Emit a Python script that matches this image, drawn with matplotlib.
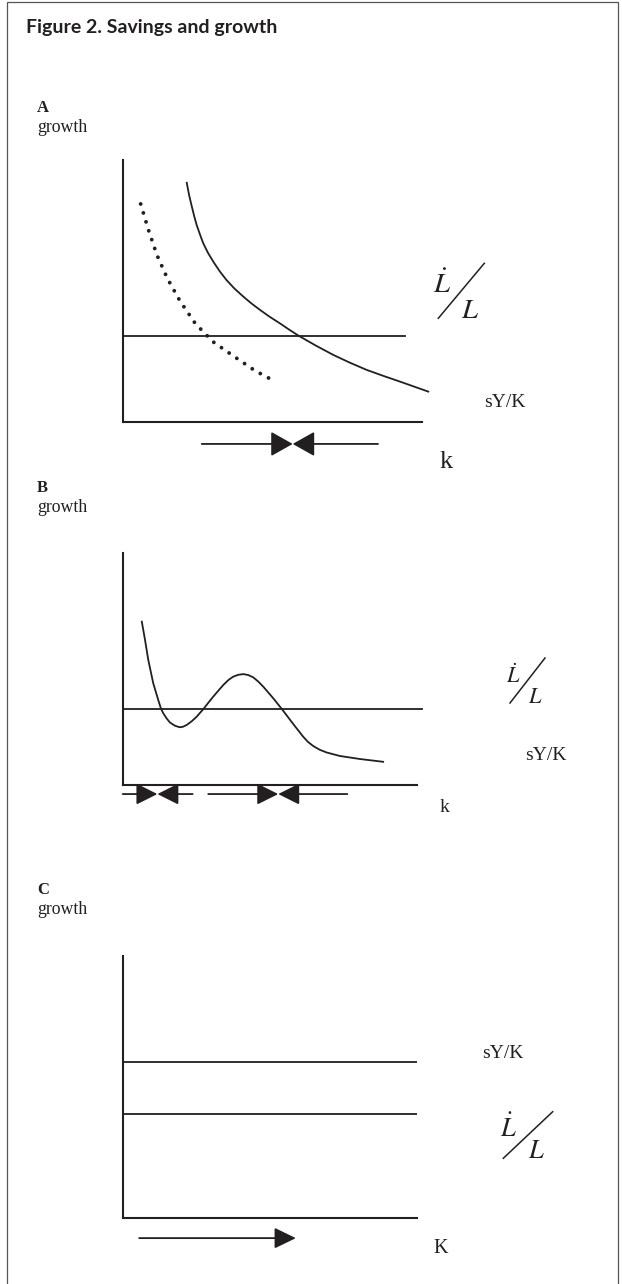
import matplotlib
matplotlib.use("Agg")
import matplotlib.pyplot as plt
from matplotlib.lines import Line2D
from matplotlib.patches import Rectangle

plt.rcParams["mathtext.fontset"] = "stix"

INK = "#231f20"
SERIF = ["Liberation Serif", "DejaVu Serif"]

# Panel A: falling sY/K (solid), shifted sY/K (dotted), flat labour growth
A_SOLID_X = [2.14, 2.22, 2.31, 2.39, 2.47, 2.58, 2.69, 2.85, 3.03, 3.24, 3.47, 3.74, 4.03, 4.30,
             4.59, 4.91, 5.25, 5.56, 5.87, 6.45, 7.04, 7.60, 8.15, 8.71, 9.27, 9.74, 10.21]
A_SOLID_Y = [9.13, 8.65, 8.22, 7.85, 7.52, 7.16, 6.82, 6.45, 6.11, 5.75, 5.41, 5.08, 4.78, 4.52,
             4.27, 4.01, 3.76, 3.52, 3.29, 2.91, 2.55, 2.25, 1.98, 1.75, 1.53, 1.34, 1.15]
A_DOTTED_X = [0.60, 0.86, 1.14, 1.49, 1.91, 2.42, 3.01, 3.70, 4.42, 4.94]
A_DOTTED_Y = [8.32, 7.33, 6.38, 5.48, 4.62, 3.76, 3.06, 2.51, 1.95, 1.63]
A_LABOUR = 3.29
A_LABOUR_END = 9.43
A_EQUILIBRIA = [5.68]
A_ARROW_FROM = [(2.64, 8.53)]

# Panel B: non-monotonic sY/K with three crossings
B_CURVE_X = [0.65, 0.76, 0.87, 1.04, 1.21, 1.30, 1.38, 1.50, 1.61, 1.77, 1.93, 2.05, 2.18,
             2.35, 2.52, 2.74, 3.08, 3.42, 3.60, 3.76, 3.93, 4.10, 4.27, 4.44, 4.61, 4.78,
             5.12, 5.41, 5.80, 6.14, 6.30, 6.48, 6.70, 6.94, 7.39, 8.07, 8.86]
B_CURVE_Y = [7.04, 6.25, 5.39, 4.38, 3.66, 3.30, 3.09, 2.86, 2.69, 2.56, 2.49, 2.51, 2.59,
             2.75, 2.95, 3.27, 3.81, 4.31, 4.53, 4.67, 4.75, 4.78, 4.74, 4.64, 4.46, 4.24,
             3.74, 3.28, 2.63, 2.08, 1.86, 1.68, 1.52, 1.40, 1.25, 1.12, 1.00]
B_LABOUR = 3.28
B_LABOUR_END = 10.17
B_EQUILIBRIA = [1.18, 5.29]
B_ARROW_FROM = [(0.0, 2.38), (2.91, 7.64)]

# Panel C: constant sY/K above labour growth
C_SAVINGS = 5.96
C_LABOUR = 3.96
C_LINE_END = 10.0
C_ARROW = (0.56, 5.89)

W, H = 622, 1284


def fx(px):
    return px / W


def fy(py):
    return 1 - py / H


def panel_axes(left, right, top, bottom):
    ax = fig.add_axes([fx(left), fy(bottom), (right - left) / W, (bottom - top) / H])
    ax.set_xlim(0, 10)
    ax.set_ylim(0, 10)
    ax.patch.set_visible(False)
    for side in ("top", "right"):
        ax.spines[side].set_visible(False)
    for side in ("left", "bottom"):
        ax.spines[side].set_linewidth(1.5)
        ax.spines[side].set_color(INK)
    ax.set_xticks([])
    ax.set_yticks([])
    return ax


def arrow(ax, start, tip, y, head_length, head_width):
    ax.annotate(
        "",
        xy=(tip, y),
        xytext=(start, y),
        arrowprops=dict(
            arrowstyle=f"-|>,head_length={head_length},head_width={head_width}",
            color=INK,
            lw=1.3,
            shrinkA=0,
            shrinkB=0,
            mutation_scale=1,
        ),
        annotation_clip=False,
    )


def rate_label(upper, lower, slash, size):
    fig.text(fx(upper[0]), fy(upper[1]), r"$\dot{L}$", fontsize=size, color=INK, va="baseline")
    fig.text(fx(lower[0]), fy(lower[1]), r"$L$", fontsize=size, color=INK, va="baseline")
    fig.add_artist(Line2D([fx(slash[0]), fx(slash[2])], [fy(slash[1]), fy(slash[3])],
                          transform=fig.transFigure, color=INK, lw=1.1))


def serif_text(x, y, s, size, weight="normal"):
    fig.text(fx(x), fy(y), s, fontsize=size, fontweight=weight, family=SERIF,
             color=INK, va="baseline")


fig = plt.figure(figsize=(W / 100, H / 100), dpi=100)

fig.add_artist(Rectangle((fx(7.5), fy(1300)), (617.5 - 7.5) / W, (1300 - 1.5) / H,
                         transform=fig.transFigure, fill=False, edgecolor="#555555", lw=0.9))
fig.text(fx(26.5), fy(33), "Figure 2. Savings and growth", family=["Lato", "DejaVu Sans"],
         fontweight="bold", fontsize=14, color=INK, va="baseline")

# ---- panel A
serif_text(37, 112.5, "A", 12, "bold")
serif_text(37, 131.7, "growth", 12.8)
ax_a = panel_axes(122.7, 422, 160, 421.7)
ax_a.plot(A_SOLID_X, A_SOLID_Y, color=INK, lw=1.3, clip_on=False)
ax_a.plot(A_DOTTED_X, A_DOTTED_Y, color=INK, lw=2.8, linestyle=(0, (0.001, 2.4)),
          dash_capstyle="round", clip_on=False)
ax_a.plot([0, A_LABOUR_END], [A_LABOUR, A_LABOUR], color=INK, lw=1.3, clip_on=False)
for eq, (lo, hi) in zip(A_EQUILIBRIA, A_ARROW_FROM):
    arrow(ax_a, lo, eq, -0.85, 13.5, 7.6)
    arrow(ax_a, hi, eq, -0.85, 13.5, 7.6)
rate_label((433, 293.3), (461, 318.3), (438.3, 318.3, 484.3, 263.3), 20.5)
serif_text(484.3, 406.7, "sY/K", 14)
serif_text(440, 468, "k", 19)

# ---- panel B
serif_text(37, 492.5, "B", 12, "bold")
serif_text(37, 511.7, "growth", 12.8)
ax_b = panel_axes(122.7, 416.7, 553, 785)
ax_b.plot(B_CURVE_X, B_CURVE_Y, color=INK, lw=1.3, clip_on=False)
ax_b.plot([0, B_LABOUR_END], [B_LABOUR, B_LABOUR], color=INK, lw=1.3, clip_on=False)
for eq, (lo, hi) in zip(B_EQUILIBRIA, B_ARROW_FROM):
    arrow(ax_b, lo, eq, -0.39, 13, 6.5)
    arrow(ax_b, hi, eq, -0.39, 13, 6.5)
rate_label((506, 683), (527.5, 703), (510, 703, 545, 658), 16)
serif_text(525, 759.5, "sY/K", 14)
serif_text(440, 811.7, "k", 14)

# ---- panel C
serif_text(37, 894.5, "C", 12, "bold")
serif_text(37, 913.7, "growth", 12.8)
ax_c = panel_axes(122.7, 416.7, 956, 1217.7)
ax_c.plot([0, C_LINE_END], [C_SAVINGS, C_SAVINGS], color=INK, lw=1.3)
ax_c.plot([0, C_LINE_END], [C_LABOUR, C_LABOUR], color=INK, lw=1.3)
arrow(ax_c, C_ARROW[0], C_ARROW[1], -0.78, 13.2, 6.4)
rate_label((499.5, 1137.3), (528.5, 1158.3), (503.3, 1158.3, 552.7, 1111.7), 19)
serif_text(481.7, 1058, "sY/K", 14)
serif_text(433, 1253.3, "K", 14.5)

fig.savefig("out.png", dpi=100)
